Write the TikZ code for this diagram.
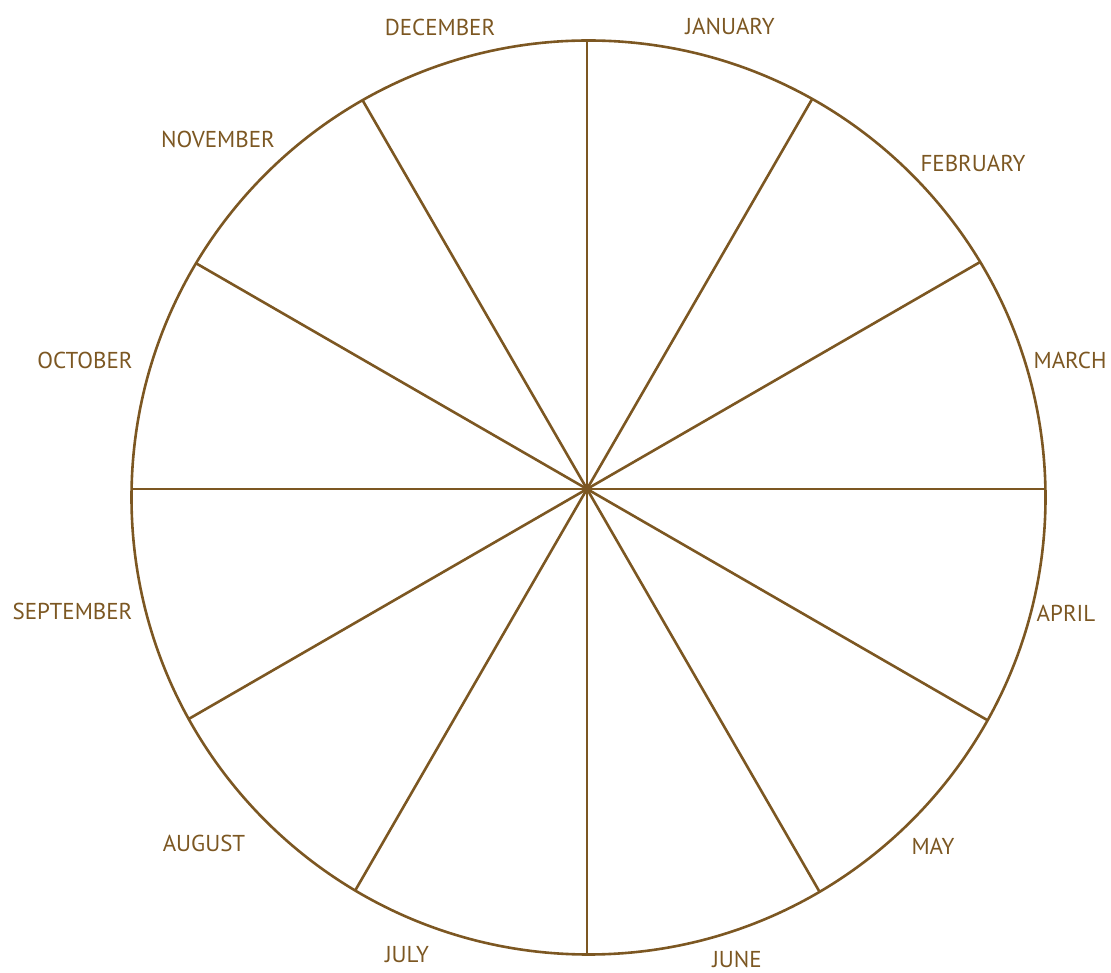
\documentclass[tikz,border=0pt]{standalone}
\usepackage{fontspec}
\setmainfont{PT Sans}
\usetikzlibrary{positioning}
\usetikzlibrary{calc}
\definecolor{wheel}{RGB}{124,87,34}

\begin{document}
\begin{tikzpicture}[x=1pt, y=1pt,
    rim/.style={draw=wheel, line width=2.6pt},
    spoke/.style={draw=wheel, line width=2.6pt},
    month/.style={text=wheel, font=\fontsize{23}{27}\selectfont, inner sep=0pt}]
    \useasboundingbox (0,0) rectangle (1111,972);

    % wheel
    \coordinate (centre) at (588.5,474.5);
    \coordinate (hub) at (587,483);
    \draw[rim] (centre) circle (457);

    % spokes, hub sits a little above the centre of the rim
    \foreach \a in {0,30,...,330}{
        \pgfmathsetmacro\du{-0.15*cos(\a)+0.85*sin(\a)}
        \pgfmathsetmacro\len{10*(-\du+sqrt(\du*\du-0.745+45.7*45.7))}
        \draw[spoke] (hub) -- ++(\a:\len);
    }

    % months
    \node[month] (jan) at (730,946) {JANUARY};
    \node[month] (feb) at (973,809) {FEBRUARY};
    \node[month] (mar) at (1070,612) {MARCH};
    \node[month] (apr) at (1066,359) {APRIL};
    \node[month] (may) at (933,126) {MAY};
    \node[month] (jun) at (737,13) {JUNE};
    \node[month] (jul) at (407,17) {JULY};
    \node[month] (aug) at (204,129) {AUGUST};
    \node[month] (sep) at (72.5,361) {SEPTEMBER};
    \node[month] (oct) at (85,612) {OCTOBER};
    \node[month] (nov) at (218,833) {NOVEMBER};
    \node[month] (dec) at (440,945) {DECEMBER};
\end{tikzpicture}
\end{document}
